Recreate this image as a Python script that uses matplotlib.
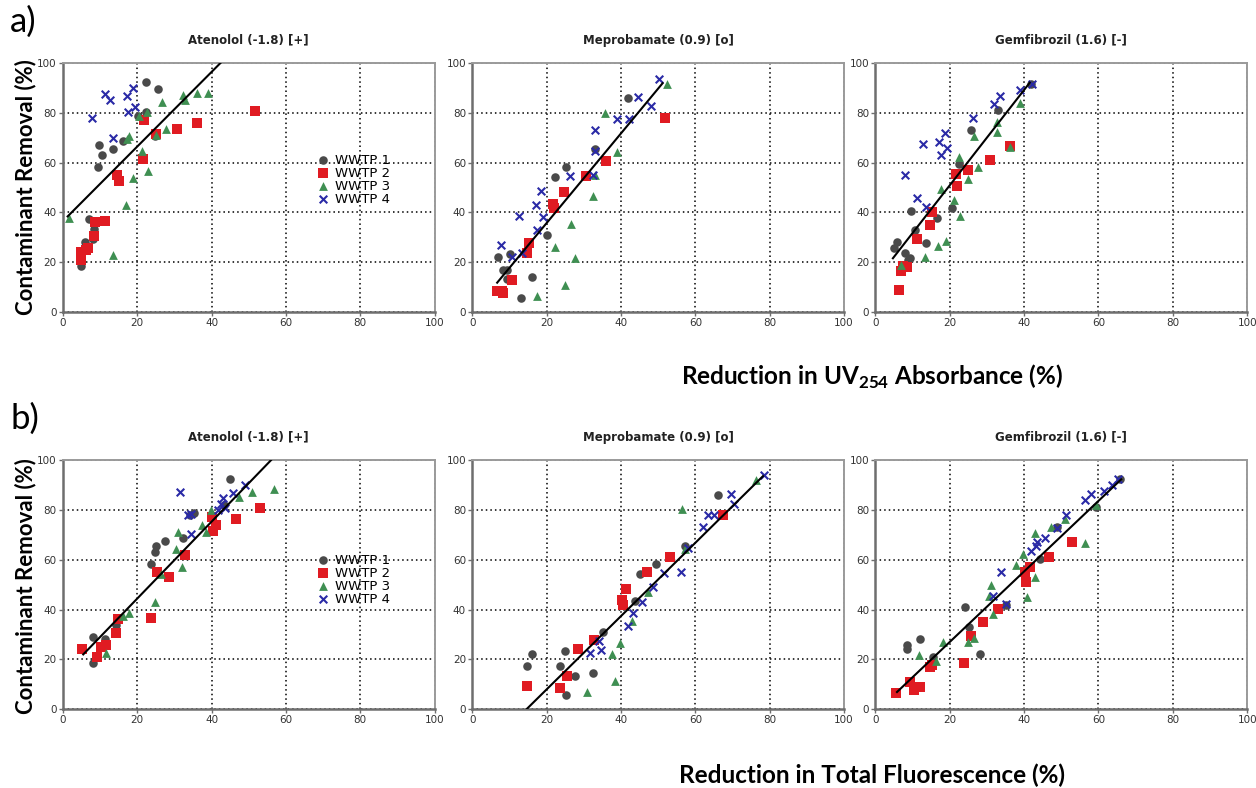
import matplotlib
matplotlib.use('Agg')
import matplotlib.pyplot as plt

plt.rcParams['mathtext.fontset'] = 'custom'
plt.rcParams['mathtext.rm'] = 'Lato'
plt.rcParams['mathtext.bf'] = 'Lato:bold'

# ---------------- data ----------------
titles = ['Atenolol (-1.8) [+]', 'Meprobamate (0.9) [o]', 'Gemfibrozil (1.6) [-]']
series_names = ['WWTP 1', 'WWTP 2', 'WWTP 3', 'WWTP 4']

# a) UV254 - Atenolol
a_ate_w1_x = [22.4, 25.6, 9.8, 10.5, 13.6, 9.6, 16.3, 20.1, 22.5, 7.1, 6.0, 8.5, 8.1, 4.9, 24.9]
a_ate_w1_y = [92.3, 89.4, 67.1, 62.9, 65.4, 58.2, 68.5, 78.8, 80.5, 37.3, 28.0, 33.4, 29.4, 18.6, 70.8]
a_ate_w2_x = [51.8, 21.9, 36.2, 30.8, 25.0, 21.7, 14.7, 15.2, 11.3, 8.7, 8.3, 6.9, 4.9, 4.9, 6.3]
a_ate_w2_y = [80.6, 77.2, 76.1, 73.7, 71.4, 61.6, 55.0, 52.8, 36.7, 36.0, 30.6, 25.6, 24.3, 20.9, 24.9]
a_ate_w3_x = [39.0, 36.0, 32.4, 32.8, 26.8, 22.6, 20.4, 27.7, 17.7, 17.2, 21.2, 22.9, 18.9, 17.0, 1.6, 13.4, 25.0]
a_ate_w3_y = [88.0, 88.0, 87.2, 85.3, 84.5, 80.2, 78.8, 73.7, 70.8, 69.4, 64.7, 56.6, 53.9, 42.9, 37.7, 22.9, 71.0]
a_ate_w4_x = [7.8, 11.3, 12.8, 17.4, 18.8, 17.6, 19.4, 13.4]
a_ate_w4_y = [77.9, 87.6, 85.2, 86.7, 89.9, 80.2, 82.2, 69.8]
a_ate_fit_x = [1.3, 42.4]
a_ate_fit_y = [38.4, 100.0]

# a) UV254 - Meprobamate
a_mep_w1_x = [41.8, 33.0, 25.3, 22.2, 20.2, 6.8, 10.1, 8.4, 9.3, 9.4, 16.2, 13.2]
a_mep_w1_y = [85.8, 65.3, 58.4, 54.1, 30.8, 22.3, 23.2, 16.9, 16.9, 13.2, 14.2, 5.8]
a_mep_w2_x = [51.9, 36.0, 30.6, 24.7, 21.8, 22.0, 15.3, 14.7, 10.8, 6.7, 8.1, 8.4]
a_mep_w2_y = [78.0, 60.8, 54.7, 48.2, 43.2, 41.9, 27.7, 23.6, 12.8, 8.5, 8.4, 7.8]
a_mep_w3_x = [52.3, 35.8, 38.9, 32.5, 26.5, 22.2, 27.7, 25.0, 17.5, 33.1]
a_mep_w3_y = [91.6, 80.0, 64.2, 46.5, 35.4, 26.1, 21.9, 10.8, 6.4, 55.0]
a_mep_w4_x = [50.1, 44.5, 48.2, 38.9, 42.1, 33.1, 33.1, 32.5, 26.2, 18.4, 17.1, 18.9, 17.5, 12.6, 7.6, 10.6, 13.3]
a_mep_w4_y = [93.6, 86.5, 82.7, 77.7, 77.4, 73.0, 64.6, 55.0, 54.5, 48.6, 42.8, 38.2, 33.1, 38.5, 27.0, 22.3, 23.6]
a_mep_fit_x = [6.7, 51.2]
a_mep_fit_y = [11.8, 91.9]

# a) UV254 - Gemfibrozil
a_gem_w1_x = [33.0, 25.6, 22.6, 20.5, 16.5, 9.6, 10.7, 13.7, 4.9, 5.8, 8.0, 9.4, 8.7, 41.8]
a_gem_w1_y = [81.1, 73.0, 59.5, 41.9, 37.8, 40.7, 32.8, 27.8, 25.7, 28.1, 23.8, 21.9, 20.9, 91.6]
a_gem_w2_x = [36.2, 30.8, 24.8, 21.7, 21.9, 15.2, 14.7, 11.3, 7.4, 8.5, 7.0, 6.4]
a_gem_w2_y = [66.6, 61.2, 57.2, 55.4, 50.8, 40.0, 34.9, 29.5, 18.4, 18.2, 16.4, 8.9]
a_gem_w3_x = [39.0, 32.6, 32.6, 26.6, 36.2, 22.5, 27.7, 25.0, 17.7, 21.2, 22.8, 19.0, 16.7, 13.2, 7.0]
a_gem_w3_y = [83.8, 76.5, 72.4, 70.7, 66.2, 62.2, 58.1, 53.4, 49.5, 45.0, 38.6, 28.4, 26.4, 22.0, 18.9]
a_gem_w4_x = [42.0, 39.0, 33.5, 32.0, 26.3, 18.8, 17.2, 19.2, 17.7, 12.7, 8.0, 11.3, 13.6]
a_gem_w4_y = [91.6, 89.3, 86.9, 83.5, 77.8, 72.0, 68.4, 65.7, 63.0, 67.3, 55.1, 45.7, 42.0]
a_gem_fit_x = [4.7, 41.5]
a_gem_fit_y = [21.6, 92.1]

# b) Total fluorescence - Atenolol
b_ate_w1_x = [44.9, 27.5, 25.2, 24.8, 23.6, 32.3, 35.3, 34.2, 8.0, 11.3, 8.1, 14.4, 43.4]
b_ate_w1_y = [92.6, 67.5, 65.5, 63.2, 58.4, 68.6, 78.7, 78.0, 29.1, 28.1, 18.6, 33.7, 82.0]
b_ate_w2_x = [53.1, 46.7, 40.2, 41.1, 40.5, 32.9, 25.4, 28.5, 23.6, 14.8, 14.4, 11.7, 10.3, 9.2, 5.2]
b_ate_w2_y = [81.0, 76.4, 77.3, 74.0, 71.5, 61.8, 55.1, 53.0, 36.8, 36.2, 30.8, 25.8, 25.0, 21.1, 24.3]
b_ate_w3_x = [56.7, 50.8, 47.3, 39.8, 37.5, 38.4, 31.0, 30.5, 32.1, 26.3, 24.8, 17.9, 16.2, 11.5]
b_ate_w3_y = [88.5, 87.2, 85.4, 80.0, 74.0, 71.0, 71.0, 64.5, 57.1, 54.4, 43.2, 38.5, 37.5, 22.7]
b_ate_w4_x = [31.5, 48.9, 45.7, 43.2, 42.6, 41.8, 34.5, 33.7, 34.4, 43.6]
b_ate_w4_y = [87.4, 89.9, 86.8, 85.0, 82.5, 80.0, 78.3, 78.0, 70.2, 81.0]
b_ate_fit_x = [5.5, 56.0]
b_ate_fit_y = [22.0, 100.0]

# b) Total fluorescence - Meprobamate
b_mep_w1_x = [66.2, 57.3, 49.3, 45.0, 43.7, 35.3, 16.2, 14.7, 24.9, 23.6, 27.6, 32.4, 25.3]
b_mep_w1_y = [85.9, 65.7, 58.5, 54.3, 43.6, 31.2, 22.3, 17.2, 23.4, 17.3, 13.5, 14.6, 5.8]
b_mep_w2_x = [67.5, 53.1, 47.0, 41.3, 40.2, 40.5, 32.8, 28.5, 25.6, 23.6, 14.7]
b_mep_w2_y = [78.1, 61.1, 55.1, 48.4, 43.9, 42.0, 27.8, 24.1, 13.2, 8.5, 9.2]
b_mep_w3_x = [76.4, 56.4, 57.1, 47.4, 43.0, 39.8, 37.6, 38.5, 30.8]
b_mep_w3_y = [91.9, 80.4, 64.2, 47.0, 35.3, 26.5, 22.0, 11.2, 6.8]
b_mep_w4_x = [78.4, 69.6, 70.4, 63.4, 65.0, 62.0, 58.0, 56.2, 51.7, 48.7, 45.6, 43.3, 41.9, 34.0, 34.7, 31.7]
b_mep_w4_y = [93.9, 86.5, 82.6, 78.1, 77.8, 73.2, 64.9, 55.0, 54.7, 49.1, 43.2, 38.5, 33.5, 27.4, 23.8, 22.7]
b_mep_fit_x = [14.6, 78.2]
b_mep_fit_y = [0.0, 93.6]

# b) Total fluorescence - Gemfibrozil
b_gem_w1_x = [65.9, 59.4, 48.9, 44.2, 35.1, 24.1, 25.3, 28.1, 15.4, 12.1, 8.5, 8.5]
b_gem_w1_y = [92.3, 81.2, 73.1, 60.5, 42.0, 40.9, 33.0, 22.0, 20.8, 28.1, 25.8, 24.1]
b_gem_w2_x = [52.9, 46.7, 41.5, 40.2, 40.6, 33.0, 28.8, 25.7, 23.9, 14.7, 15.2, 9.4, 11.9, 10.4, 5.4]
b_gem_w2_y = [67.0, 61.2, 57.3, 55.1, 51.1, 40.3, 34.9, 29.5, 18.4, 16.8, 17.7, 10.9, 8.9, 7.6, 6.6]
b_gem_w3_x = [59.4, 56.3, 50.9, 47.1, 43.0, 39.7, 37.7, 31.1, 30.5, 42.9, 40.9, 31.7, 25.0, 26.5, 18.1, 11.6, 16.3]
b_gem_w3_y = [82.2, 66.8, 76.5, 73.1, 70.8, 62.3, 58.1, 49.7, 45.4, 53.2, 45.1, 38.4, 26.8, 28.5, 26.8, 21.8, 19.5]
b_gem_w4_x = [65.3, 63.7, 61.6, 58.0, 56.3, 51.3, 48.9, 45.5, 43.5, 43.1, 41.8, 33.9, 31.7, 35.1]
b_gem_w4_y = [92.3, 90.0, 87.6, 86.6, 83.9, 77.8, 72.7, 68.6, 67.3, 65.4, 63.6, 55.1, 45.4, 42.4]
b_gem_fit_x = [5.8, 66.1]
b_gem_fit_y = [6.9, 92.3]

ticks = [0, 20, 40, 60, 80, 100]

# ---------------- styles ----------------
marker_styles = [
    dict(marker='o', s=38, color='#4a4a4a', linewidths=0),
    dict(marker='s', s=42, color='#e01b22', linewidths=0),
    dict(marker='^', s=40, color='#3f8f52', linewidths=0),
    dict(marker='x', s=30, color='#2a2aa6', linewidths=1.5),
]

panels = [
    [(a_ate_w1_x, a_ate_w1_y), (a_ate_w2_x, a_ate_w2_y), (a_ate_w3_x, a_ate_w3_y), (a_ate_w4_x, a_ate_w4_y), (a_ate_fit_x, a_ate_fit_y)],
    [(a_mep_w1_x, a_mep_w1_y), (a_mep_w2_x, a_mep_w2_y), (a_mep_w3_x, a_mep_w3_y), (a_mep_w4_x, a_mep_w4_y), (a_mep_fit_x, a_mep_fit_y)],
    [(a_gem_w1_x, a_gem_w1_y), (a_gem_w2_x, a_gem_w2_y), (a_gem_w3_x, a_gem_w3_y), (a_gem_w4_x, a_gem_w4_y), (a_gem_fit_x, a_gem_fit_y)],
    [(b_ate_w1_x, b_ate_w1_y), (b_ate_w2_x, b_ate_w2_y), (b_ate_w3_x, b_ate_w3_y), (b_ate_w4_x, b_ate_w4_y), (b_ate_fit_x, b_ate_fit_y)],
    [(b_mep_w1_x, b_mep_w1_y), (b_mep_w2_x, b_mep_w2_y), (b_mep_w3_x, b_mep_w3_y), (b_mep_w4_x, b_mep_w4_y), (b_mep_fit_x, b_mep_fit_y)],
    [(b_gem_w1_x, b_gem_w1_y), (b_gem_w2_x, b_gem_w2_y), (b_gem_w3_x, b_gem_w3_y), (b_gem_w4_x, b_gem_w4_y), (b_gem_fit_x, b_gem_fit_y)],
]

fig = plt.figure(figsize=(12.56, 7.88), dpi=100)

lefts = [0.050, 0.376, 0.697]
bottoms = [0.604, 0.100]
w, h = 0.296, 0.316

for i, pdata in enumerate(panels):
    row, col = divmod(i, 3)
    ax = fig.add_axes([lefts[col], bottoms[row], w, h])
    for k in range(4):
        xs, ys = pdata[k]
        ax.scatter(xs, ys, label=series_names[k], zorder=3, **marker_styles[k])
    fx, fy = pdata[4]
    ax.plot(fx, fy, color='black', lw=1.5, zorder=4)
    ax.set_xlim(0, 100)
    ax.set_ylim(0, 100)
    ax.set_xticks(ticks)
    ax.set_yticks(ticks)
    ax.grid(True, color='black', linestyle=(0, (1, 2)), lw=1.1)
    ax.set_axisbelow(True)
    for side in ['left', 'bottom']:
        ax.spines[side].set_color('#6e6e6e')
        ax.spines[side].set_linewidth(1.8)
    for side in ['right', 'top']:
        ax.spines[side].set_color('#9a9a9a')
        ax.spines[side].set_linewidth(1.4)
    ax.tick_params(length=3, width=1, color='#6e6e6e', labelsize=7.5, labelcolor='#333333', pad=1.5)
    ax.set_title(titles[col], fontsize=8.5, fontweight='bold', pad=14, color='#222222')
    if col == 0:
        leg_y = 0.635 if row == 0 else 0.625
        ax.legend(loc='upper left', bbox_to_anchor=(0.685, leg_y), frameon=False, fontsize=9.5,
                  handlelength=0.8, handletextpad=0.5, labelspacing=0.0, borderpad=0,
                  borderaxespad=0, scatterpoints=1)

fig.text(0.008, 0.972, 'a)', fontsize=25, family='Lato', va='center', ha='left')
fig.text(0.008, 0.468, 'b)', fontsize=25, family='Lato', va='center', ha='left')
fig.text(0.020, 0.762, 'Contaminant Removal (%)', rotation=90, fontsize=16, family='Lato',
         fontweight='bold', va='center', ha='center')
fig.text(0.020, 0.256, 'Contaminant Removal (%)', rotation=90, fontsize=16, family='Lato',
         fontweight='bold', va='center', ha='center')
fig.text(0.694, 0.522, r'Reduction in UV$_\mathbf{254}$ Absorbance (%)', fontsize=17.5, family='Lato',
         fontweight='bold', va='center', ha='center')
fig.text(0.694, 0.016, 'Reduction in Total Fluorescence (%)', fontsize=17.5, family='Lato',
         fontweight='bold', va='center', ha='center')

plt.savefig('out.png', dpi=100)
